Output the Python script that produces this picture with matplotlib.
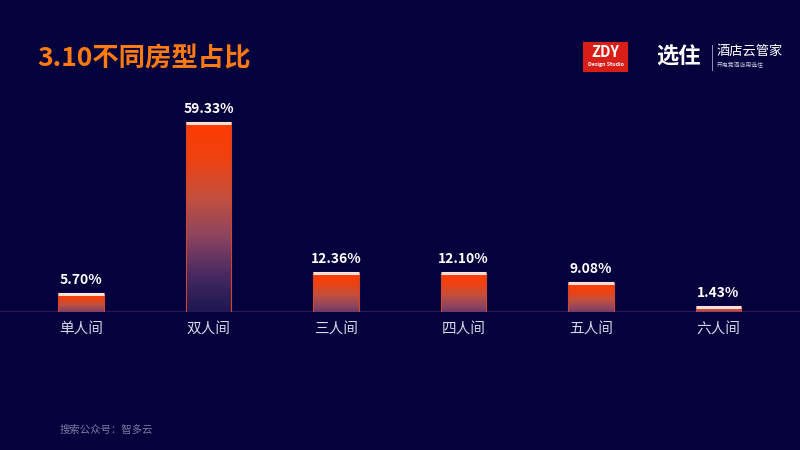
import numpy as np
import matplotlib.pyplot as plt
from matplotlib.colors import LinearSegmentedColormap
from matplotlib.patches import Rectangle

plt.rcParams['font.family'] = ['Noto Sans CJK SC', 'DejaVu Sans']

# 数据
categories = ["单人间", "双人间", "三人间", "四人间", "五人间", "六人间"]
values = [5.70, 59.33, 12.36, 12.10, 9.08, 1.43]
labels = ["5.70%", "59.33%", "12.36%", "12.10%", "9.08%", "1.43%"]

bg = "#04013d"
fig = plt.figure(figsize=(8, 4.5), dpi=100, facecolor=bg)

# 图表区域：基线在 y=312px
ax = fig.add_axes([0.0, (450 - 312) / 450, 1.0, (312 - 89) / 450])
ax.set_facecolor(bg)
ax.set_xlim(-81 / 127.5, (800 - 81) / 127.5)
ax.set_ylim(0, 70)
ax.axis("off")

# 柱子渐变：顶部橙红 -> 底部深蓝紫
cmap = LinearSegmentedColormap.from_list(
    "bar", ["#1c1752", "#4a2a62", "#8c4460", "#c2503f", "#ee4212", "#ff3a00"])
w = 0.36
vmax = max(values)
for i, v in enumerate(values):
    # 矮柱子底部颜色不那么暗
    t0 = 0.38 * (1 - v / vmax)
    grad = np.linspace(t0, 1, 256).reshape(-1, 1)
    ax.imshow(grad, cmap=cmap, vmin=0, vmax=1, origin="lower", aspect="auto",
              extent=(i - w / 2, i + w / 2, 0, v), zorder=2)
    ax.add_patch(Rectangle((i - w / 2, 0), w, v, fill=False,
                           edgecolor="#d0452a", linewidth=0.8, zorder=3))
    # 顶部白色高光线
    ax.plot([i - w / 2, i + w / 2], [v, v], color="#ffe0d8", linewidth=2.2,
            solid_capstyle="butt", zorder=4)
    ax.text(i, v + 2.2, labels[i], ha="center", va="bottom", color="white",
            fontsize=10, fontweight="bold", zorder=5)
    ax.text(i, -3.0, categories[i], ha="center", va="top", color="#d8d8e8",
            fontsize=10.5, zorder=5, clip_on=False)

# 基线
ax.axhline(0, color="#3c1c5a", linewidth=1.2, zorder=1)

# 标题
fig.text(37 / 800, 1 - 59 / 450, "3.10不同房型占比", color="#ff7a10",
         fontsize=19, fontweight="bold", ha="left", va="center")

# 右上角 logo
fig.patches.append(Rectangle((583 / 800, 1 - 72 / 450), 45 / 800, 30 / 450,
                             transform=fig.transFigure, facecolor="#d91e18",
                             edgecolor="none"))
fig.text(605.5 / 800, 1 - 52 / 450, "ZDY", color="white", fontsize=10.5,
         fontweight="bold", ha="center", va="center")
fig.text(605.5 / 800, 1 - 65 / 450, "Design Studio", color="white", fontsize=3.8,
         fontweight="bold", ha="center", va="center")
fig.text(656 / 800, 1 - 57 / 450, "选住", color="white", fontsize=16,
         fontweight="bold", ha="left", va="center")
fig.add_artist(plt.Line2D([712 / 800, 712 / 800], [1 - 45 / 450, 1 - 70 / 450],
                          color="#aaaacc", linewidth=0.6, transform=fig.transFigure))
fig.text(717 / 800, 1 - 51 / 450, "酒店云管家", color="white", fontsize=9.5,
         ha="left", va="center")
fig.text(717 / 800, 1 - 65 / 450, "开电竞酒店用选住", color="#c8c8dd", fontsize=4.2,
         ha="left", va="center")

# 页脚
fig.text(60 / 800, 1 - 430 / 450, "搜索公众号：智多云", color="#7c7ca0",
         fontsize=7.5, ha="left", va="center")

fig.savefig("out.png", dpi=100, facecolor=bg)
